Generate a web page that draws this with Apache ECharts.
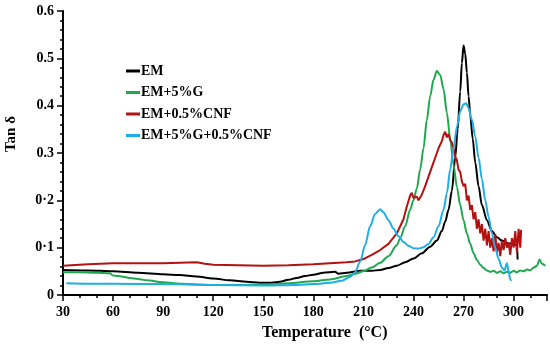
<!DOCTYPE html>
<html>
<head>
<meta charset="utf-8">
<script src="https://cdn.jsdelivr.net/npm/echarts@6/dist/echarts.min.js"></script>
<style>html,body{margin:0;padding:0;background:#fff}#c{width:550px;height:347px}</style>
</head>
<body>
<div id="c"></div>
<script>
const seriesNames = ['EM', 'EM+5%G', 'EM+0.5%CNF', 'EM+5%G+0.5%CNF'];
const xTicks = [30, 60, 90, 120, 150, 180, 210, 240, 270, 300];
const yTicks = ['0', '0·1', '0·2', '0.3', '0.4', '0.5', '0.6'];

const emData = [[30,0.053],[45,0.052],[60,0.050],[75,0.047],[90,0.044],[100,0.042],[110,0.039],[120,0.035],[130,0.031],[140,0.028],[148,0.026],[155,0.026],[160,0.028],[165,0.032],[170,0.036],[175,0.040],[180,0.043],[186,0.047],[193,0.049],[195,0.045],[200,0.047],[208,0.051],[215,0.051],[220,0.053],[225,0.057],[230,0.062],[235,0.069],[240,0.077],[245,0.088],[250,0.102],[254,0.115],[257,0.135],[259,0.155],[261,0.18],[263,0.22],[265,0.29],[266.5,0.35],[268,0.43],[269,0.49],[270,0.527],[271,0.51],[272,0.47],[273,0.42],[274,0.38],[275.5,0.33],[277,0.28],[279,0.23],[281,0.19],[284,0.158],[287,0.135],[290,0.122],[293,0.115],[296,0.110],[299,0.108],[302,0.105],[302.4,0.075]];

const gData = [[30,0.048],[40,0.048],[50,0.047],[58,0.046],[60,0.041],[65,0.039],[70,0.036],[75,0.034],[80,0.031],[90,0.027],[100,0.024],[110,0.022],[120,0.021],[135,0.021],[150,0.022],[165,0.025],[180,0.029],[190,0.033],[200,0.040],[205,0.045],[210,0.050],[215,0.058],[220,0.068],[225,0.082],[230,0.105],[232,0.12],[235,0.145],[238,0.18],[240,0.2],[242,0.225],[244,0.265],[246,0.31],[248,0.37],[250,0.42],[252,0.455],[254,0.473],[256,0.465],[258,0.435],[260,0.385],[262,0.33],[264,0.275],[266,0.228],[268,0.19],[270,0.158],[272,0.13],[274,0.108],[276,0.088],[278,0.074],[280,0.064],[282,0.057],[284,0.052],[286,0.049],[288,0.051],[290,0.047],[292,0.05],[294,0.046],[296,0.049],[298,0.047],[300,0.051],[302,0.048],[304,0.052],[306,0.05],[308,0.054],[310,0.052],[312,0.058],[314,0.062],[315.5,0.075],[317,0.066],[319,0.062]];

const cnfData = [[30,0.062],[45,0.065],[60,0.067],[75,0.067],[90,0.067],[100,0.068],[110,0.069],[115,0.066],[120,0.064],[135,0.063],[150,0.062],[165,0.063],[180,0.065],[190,0.067],[200,0.069],[205,0.071],[210,0.076],[215,0.085],[220,0.095],[225,0.108],[230,0.13],[234,0.16],[236,0.187],[238,0.21],[239,0.216],[240,0.205],[241,0.202],[242,0.208],[243,0.2],[244,0.203],[245,0.212],[247,0.23],[249,0.25],[251,0.27],[253,0.29],[255,0.31],[257,0.325],[258,0.338],[259,0.345],[260,0.333],[261,0.34],[262,0.327],[263,0.322],[264,0.31],[265,0.293],[266,0.285],[267,0.265],[268,0.26],[269,0.24],[270,0.23],[271,0.235],[272,0.2],[273,0.21],[274,0.18],[275,0.19],[276,0.16],[277,0.175],[278,0.14],[279,0.16],[280,0.13],[281,0.15],[282,0.115],[283,0.14],[284,0.105],[285,0.135],[286,0.1],[287,0.12],[288,0.092],[289,0.128],[290,0.09],[291,0.11],[292,0.082],[293,0.115],[294,0.095],[295,0.12],[296,0.1],[297,0.11],[298,0.085],[299,0.12],[300,0.1],[301,0.135],[302,0.09],[303,0.14],[304,0.1],[304.5,0.138]];

const gcnfData = [[32,0.025],[45,0.024],[60,0.024],[90,0.023],[120,0.021],[150,0.020],[170,0.021],[180,0.023],[190,0.026],[197,0.030],[202,0.038],[205,0.048],[208,0.07],[211,0.105],[214,0.145],[217,0.171],[220,0.181],[222,0.175],[225,0.158],[228,0.14],[231,0.124],[234,0.112],[237,0.104],[240,0.099],[243,0.098],[246,0.101],[249,0.108],[252,0.122],[255,0.145],[258,0.18],[260,0.215],[262,0.265],[264,0.31],[266,0.355],[268,0.388],[270,0.403],[271.5,0.405],[273,0.395],[275,0.37],[277,0.335],[279,0.29],[281,0.245],[283,0.2],[285,0.165],[287,0.13],[289,0.1],[291,0.076],[293,0.058],[294.5,0.052],[296,0.067],[297,0.05],[298,0.033],[298.5,0.03]];

const colors = ['#000000', '#1fa84f', '#b31212', '#1eaee6'];
const FONT = 'Liberation Serif';

const chart = echarts.init(document.getElementById('c'), null, {renderer: 'canvas'});
const datasets = [emData, gData, cnfData, gcnfData];

chart.setOption({
  animation: false,
  backgroundColor: '#fff',
  grid: {left: 63, right: 3, top: 11, bottom: 52, containLabel: false},
  legend: {
    orient: 'vertical', left: 121, top: 59, itemGap: 7.5,
    itemWidth: 14, itemHeight: 3, icon: 'rect',
    data: seriesNames,
    textStyle: {fontFamily: FONT, fontWeight: 'bold', fontSize: 14, color: '#000', padding: [0,0,0,-4]}
  },
  xAxis: [{
    type: 'value', min: 30, max: 320, interval: 30, position: 'bottom',
    axisLine: {lineStyle: {color: '#000', width: 2}},
    axisTick: {length: 6, lineStyle: {color: '#000', width: 1.5}},
    axisLabel: {
      fontFamily: FONT, fontWeight: 'bold', fontSize: 14, color: '#000', margin: 10,
      formatter: v => xTicks.indexOf(v) >= 0 ? String(v) : ''
    },
    splitLine: {show: false}
  }, {
    type: 'value', min: 30, max: 320, interval: 10, position: 'bottom', offset: 0,
    axisLine: {show: false},
    axisTick: {length: 3, lineStyle: {color: '#000', width: 1.5}},
    axisLabel: {show: false},
    splitLine: {show: false}
  }],
  yAxis: {
    type: 'value', min: 0, max: 0.6, interval: 0.1,
    axisLine: {show: true, lineStyle: {color: '#000', width: 2}},
    axisTick: {show: true, length: 6, lineStyle: {color: '#000', width: 1.5}},
    minorTick: {show: true, splitNumber: 5, length: 3, lineStyle: {color: '#000', width: 1.5}},
    axisLabel: {
      fontFamily: FONT, fontWeight: 'bold', fontSize: 14, color: '#000', margin: 9,
      formatter: v => yTicks[Math.round(v * 10)]
    },
    splitLine: {show: false}
  },
  graphic: [
    {type: 'text', left: 262, top: 325, style: {text: 'Temperature  (°C)', font: 'bold 16px "Liberation Serif"', fill: '#000'}},
    {type: 'text', x: 11, y: 134, rotation: Math.PI / 2, style: {text: 'Tan δ', font: 'bold 15px "Liberation Serif"', fill: '#000', align: 'center', verticalAlign: 'middle'}}
  ],
  series: seriesNames.map((n, i) => ({
    name: n, type: 'line', xAxisIndex: 0, data: datasets[i],
    showSymbol: false, symbol: 'none',
    smooth: i === 2 ? false : 0.3, smoothMonotone: 'x',
    lineStyle: {color: colors[i], width: 2},
    itemStyle: {color: colors[i]}
  }))
});
</script>
</body>
</html>
